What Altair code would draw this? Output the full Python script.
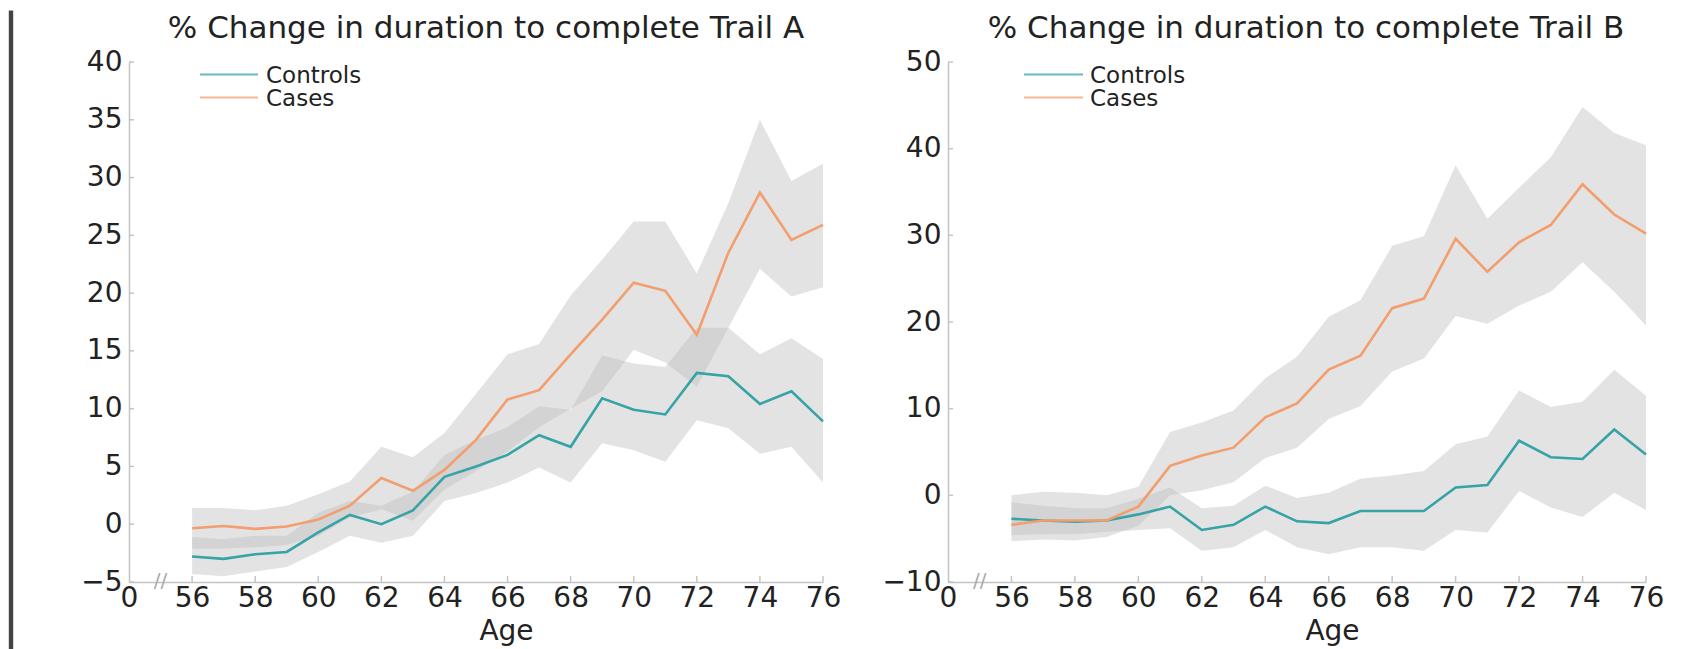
import altair as alt
import pandas as pd

# ---------------- data ----------------
ages = list(range(56, 77))
groups = ["Controls", "Cases"]
titles = ["% Change in duration to complete Trail A",
          "% Change in duration to complete Trail B"]
x_title = "Age"
x_ticks = [54, 56, 58, 60, 62, 64, 66, 68, 70, 72, 74, 76]   # 54 is shown as "0" (broken axis)
a_y_ticks = [-5, 0, 5, 10, 15, 20, 25, 30, 35, 40]
b_y_ticks = [-10, 0, 10, 20, 30, 40, 50]

# Trail A
a_ctrl    = [-2.8, -3.0, -2.6, -2.4, -0.7, 0.8, 0.0, 1.2, 4.1, 5.0, 6.0, 7.7, 6.7, 10.9, 9.9, 9.5, 13.1, 12.8, 10.4, 11.5, 8.9]
a_ctrl_lo = [-4.3, -4.5, -4.1, -3.7, -2.4, -1.0, -1.6, -1.0, 2.0, 2.7, 3.6, 4.9, 3.6, 7.0, 6.4, 5.4, 9.0, 8.3, 6.1, 6.7, 3.6]
a_ctrl_hi = [-1.1, -1.3, -1.0, -1.0, 1.0, 2.0, 1.6, 2.8, 6.0, 7.3, 8.4, 10.2, 9.9, 14.6, 13.9, 13.6, 17.0, 17.0, 14.7, 16.1, 14.3]
a_case    = [-0.35, -0.15, -0.4, -0.2, 0.4, 1.6, 4.0, 2.9, 4.7, 7.3, 10.8, 11.6, 14.7, 17.7, 20.9, 20.2, 16.4, 23.5, 28.7, 24.6, 25.9]
a_case_lo = [-2.1, -2.1, -2.0, -1.8, -1.0, 0.6, 1.3, 0.3, 3.0, 4.6, 6.3, 8.4, 10.0, 11.5, 15.1, 14.0, 11.9, 17.0, 22.1, 19.7, 20.5]
a_case_hi = [1.4, 1.4, 1.2, 1.6, 2.6, 3.7, 6.7, 5.8, 7.9, 11.3, 14.7, 15.6, 19.8, 22.9, 26.2, 26.2, 21.7, 27.8, 35.0, 29.7, 31.2]

# Trail B
b_ctrl    = [-2.7, -2.9, -3.05, -2.9, -2.2, -1.3, -4.0, -3.4, -1.3, -3.0, -3.2, -1.8, -1.8, -1.8, 0.9, 1.2, 6.3, 4.4, 4.2, 7.6, 4.7]
b_ctrl_lo = [-4.6, -4.5, -4.5, -4.2, -4.0, -3.8, -6.4, -6.0, -4.0, -6.0, -6.8, -6.0, -6.0, -6.4, -4.0, -4.3, 0.5, -1.4, -2.5, 0.3, -1.7]
b_ctrl_hi = [-0.8, -1.2, -1.5, -1.5, -0.4, 0.9, -1.5, -1.2, 1.1, -0.3, 0.3, 1.9, 2.3, 2.8, 5.9, 6.8, 12.1, 10.2, 10.8, 14.5, 11.5]
b_case    = [-3.4, -2.9, -2.9, -2.9, -1.3, 3.4, 4.6, 5.5, 9.0, 10.6, 14.5, 16.1, 21.6, 22.7, 29.6, 25.8, 29.2, 31.2, 35.9, 32.4, 30.2]
b_case_lo = [-5.3, -5.1, -5.2, -4.8, -3.5, 0.0, 0.6, 1.5, 4.3, 5.5, 8.8, 10.3, 14.3, 15.8, 20.7, 19.8, 21.9, 23.5, 26.9, 23.5, 19.6]
b_case_hi = [0.0, 0.4, 0.3, 0.0, 1.0, 7.3, 8.4, 9.8, 13.5, 16.0, 20.6, 22.5, 28.8, 29.9, 38.1, 31.9, 35.5, 39.0, 44.8, 41.8, 40.4]

# ---------------- style ----------------
FONT = "DejaVu Sans"
TEAL = "#36a3a6"
ORANGE = "#f29e6e"
BAND = "#bdbdbd"
AXIS = "#c4c4c4"
H = 520
BAR_W = 4.4
TOP = -51.5


def make_df(ctrl, ctrl_lo, ctrl_hi, case, case_lo, case_hi):
    rows = []
    for i, a in enumerate(ages):
        rows.append({"age": a, "group": groups[0], "value": ctrl[i], "lo": ctrl_lo[i], "hi": ctrl_hi[i]})
        rows.append({"age": a, "group": groups[1], "value": case[i], "lo": case_lo[i], "hi": case_hi[i]})
    return pd.DataFrame(rows)


def panel(title, df, y_dom, y_ticks, width, title_x, age_x, leg_x0, leg_x1, leg_tx, bar=False):
    xs = alt.Scale(domain=[54, 76], nice=False, zero=False)
    ys = alt.Scale(domain=y_dom, nice=False, zero=False)
    x_enc = alt.X("age:Q", scale=xs,
                  axis=alt.Axis(values=x_ticks, format="d",
                                labelExpr="datum.value == 54 ? '0' : datum.label",
                                labelFlush=False,
                                title=x_title, titleX=age_x, titleY=57,
                                titleBaseline="alphabetic", titleAlign="center",
                                labelPadding=2, grid=False, ticks=False,
                                labelFont=FONT, labelFontSize=28, labelColor="#222222",
                                titleFont=FONT, titleFontSize=28, titleColor="#222222",
                                titleFontWeight="normal", domainColor=AXIS, domainWidth=1.5))
    y_axis = alt.Axis(values=y_ticks, format="d", title=None, labelPadding=7, grid=False, ticks=False,
                      labelFont=FONT, labelFontSize=28, labelColor="#222222",
                      domainColor=AXIS, domainWidth=1.5)
    base = alt.Chart(df)

    band = base.mark_area(color=BAND, opacity=0.42).encode(
        x=x_enc,
        y=alt.Y("lo:Q", scale=ys, axis=y_axis),
        y2="hi:Q",
        detail="group:N",
    )
    line = base.mark_line(strokeWidth=2.6).encode(
        x="age:Q",
        y="value:Q",
        color=alt.Color("group:N", scale=alt.Scale(domain=groups, range=[TEAL, ORANGE]), legend=None),
    )

    xt = alt.Chart(pd.DataFrame({"t": x_ticks[1:]})).mark_rule(color=AXIS, strokeWidth=1.5).encode(
        x=alt.X("t:Q", scale=xs), y=alt.value(H), y2=alt.value(H - 6))
    yt = alt.Chart(pd.DataFrame({"t": y_ticks})).mark_rule(color=AXIS, strokeWidth=1.5).encode(
        y=alt.Y("t:Q", scale=ys), x=alt.value(0), x2=alt.value(5))
    brk = alt.Chart(pd.DataFrame({"t": [55]})).mark_text(
        text="//", font=FONT, fontSize=20, color="#aaaaaa", baseline="middle", align="center").encode(
        x=alt.X("t:Q", scale=xs), y=alt.value(H - 1))

    ttl = alt.Chart(pd.DataFrame({"t": [title]})).mark_text(
        font=FONT, fontSize=31, color="#222222", align="center", baseline="alphabetic").encode(
        text="t:N", x=alt.value(title_x), y=alt.value(-24.5))

    # invisible spacer so both panels share the same top bound
    spacer = alt.Chart(pd.DataFrame({"g": [0]})).mark_rule(
        color="white", opacity=0, strokeWidth=BAR_W).encode(
        x=alt.value(width / 2), y=alt.value(TOP), y2=alt.value(TOP + 2))

    leg_layers = []
    for g, col, ly in zip(groups, [TEAL, ORANGE], [12.5, 35.5]):
        leg_layers.append(
            alt.Chart(pd.DataFrame({"g": [g]})).mark_rule(color=col, strokeWidth=2, opacity=0.75).encode(
                x=alt.value(leg_x0), x2=alt.value(leg_x1), y=alt.value(ly)))
        leg_layers.append(
            alt.Chart(pd.DataFrame({"g": [g]})).mark_text(
                font=FONT, fontSize=23, color="#222222", align="left", baseline="middle").encode(
                text="g:N", x=alt.value(leg_tx), y=alt.value(ly + 1)))

    layers = [band, line, xt, yt, brk, ttl, spacer] + leg_layers
    if bar:
        layers.append(
            alt.Chart(pd.DataFrame({"g": [0]})).mark_rule(color="#444444", strokeWidth=BAR_W).encode(
                x=alt.value(-118), y=alt.value(TOP), y2=alt.value(600)))
    return alt.layer(*layers).properties(width=width, height=H)


left = panel(titles[0], make_df(a_ctrl, a_ctrl_lo, a_ctrl_hi, a_case, a_case_lo, a_case_hi),
             [-5, 40], a_y_ticks, 694, 357, 377, 71, 129, 137, bar=True)
right = panel(titles[1], make_df(b_ctrl, b_ctrl_lo, b_ctrl_hi, b_case, b_case_lo, b_case_hi),
              [-10, 50], b_y_ticks, 698, 358, 384, 76, 135, 142)

chart = alt.hconcat(left, right, spacing=40).properties(
    padding=0, background="white"
).configure_view(stroke=None)

chart.save("out.html", embed_options={"renderer": "svg", "actions": False})
